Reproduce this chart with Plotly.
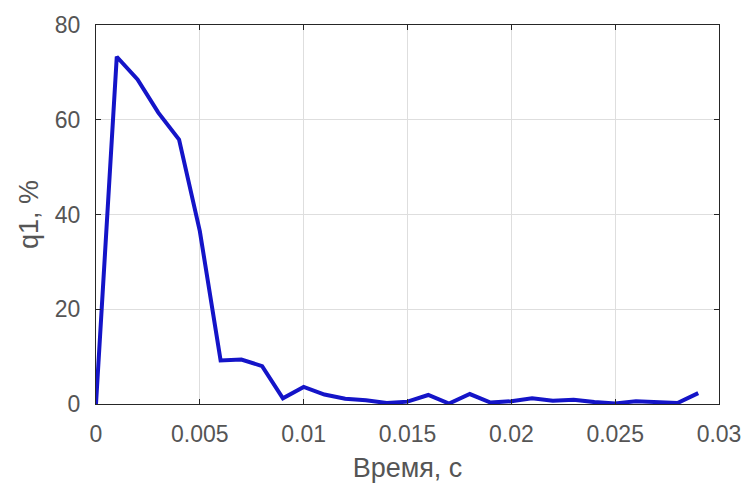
import plotly.graph_objects as go

t = [0, 0.001, 0.002, 0.003, 0.004, 0.005, 0.006, 0.007, 0.008, 0.009, 0.010,
     0.011, 0.012, 0.013, 0.014, 0.015, 0.016, 0.017, 0.018, 0.019, 0.020,
     0.021, 0.022, 0.023, 0.024, 0.025, 0.026, 0.027, 0.028, 0.029]
q1 = [0, 73.3, 68.5, 61.5, 55.8, 36.5, 9.2, 9.4, 8.0, 1.2, 3.6,
      2.0, 1.1, 0.8, 0.2, 0.5, 1.9, 0.1, 2.1, 0.3, 0.6,
      1.2, 0.7, 0.9, 0.4, 0.1, 0.6, 0.5, 0.2, 2.3]

x_ticks = [0, 0.005, 0.01, 0.015, 0.02, 0.025, 0.03]
x_labels = ["0", "0.005", "0.01", "0.015", "0.02", "0.025", "0.03"]
y_ticks = [0, 20, 40, 60, 80]

FONT = "Liberation Sans, Arial"
TXT = "#555555"

fig = go.Figure()
fig.add_trace(go.Scatter(x=t, y=q1, mode="lines",
                         line=dict(color="#1414c8", width=4),
                         showlegend=False))

axis_common = dict(
    showline=True, linecolor="#262626", linewidth=1.2, mirror="ticks",
    ticks="inside", ticklen=5, tickcolor="#262626",
    showgrid=True, gridcolor="#dedede", gridwidth=1,
    zeroline=False,
    tickfont=dict(family=FONT, size=23, color=TXT),
)

fig.update_xaxes(range=[0, 0.03], tickvals=x_ticks, ticktext=x_labels,
                 ticklabelstandoff=9,
                 title=dict(text="Время, с", standoff=12,
                            font=dict(family=FONT, size=27, color=TXT)),
                 **axis_common)
fig.update_yaxes(range=[0, 80], tickvals=y_ticks,
                 ticklabelstandoff=10,
                 title=dict(text="q1, %", standoff=8,
                            font=dict(family=FONT, size=27, color=TXT)),
                 **axis_common)

fig.update_layout(width=753, height=490,
                  margin=dict(l=96, r=31, t=18, b=86),
                  plot_bgcolor="white", paper_bgcolor="white")

fig.write_html("out.html")
